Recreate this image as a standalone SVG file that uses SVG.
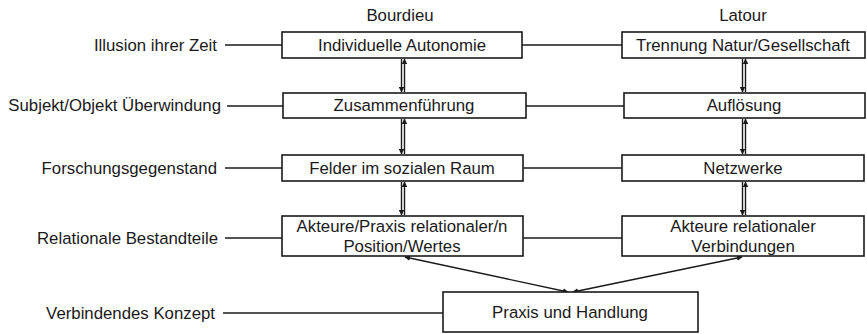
<svg xmlns="http://www.w3.org/2000/svg" width="867" height="334" viewBox="0 0 867 334">
<style>
text{font-family:"Liberation Sans",Arial,sans-serif;font-size:16.8px;fill:#1a1a1a}
.c{text-anchor:middle}
.r{text-anchor:end}
.box{fill:#fff;stroke:#1a1a1a;stroke-width:1.6}
.ln{stroke:#1a1a1a;stroke-width:1.4;fill:none}
</style>
<defs>
<marker id="ah" viewBox="0 0 10 10" refX="9" refY="5" markerWidth="4" markerHeight="4" orient="auto-start-reverse">
<path d="M0,0 L10,5 L0,10 z" fill="#1a1a1a"/>
</marker>
</defs>
<g id="headers">
<text class="c" x="400" y="21">Bourdieu</text>
<text class="c" x="743" y="21">Latour</text>
</g>
<g id="labels">
<text class="r" x="217" y="51">Illusion ihrer Zeit</text>
<text class="r" x="221" y="111">Subjekt/Objekt Überwindung</text>
<text class="r" x="217" y="174">Forschungsgegenstand</text>
<text class="r" x="218" y="244">Relationale Bestandteile</text>
<text class="r" x="215" y="319">Verbindendes Konzept</text>
</g>
<g id="connectors">
<line class="ln" x1="225" y1="45" x2="282" y2="45"/>
<line class="ln" x1="227" y1="106" x2="283" y2="106"/>
<line class="ln" x1="225" y1="168" x2="282" y2="168"/>
<line class="ln" x1="225" y1="238" x2="282" y2="238"/>
<line class="ln" x1="223" y1="313" x2="443" y2="313"/>
<line class="ln" x1="522" y1="45" x2="622" y2="45"/>
<line class="ln" x1="526" y1="106" x2="624" y2="106"/>
<line class="ln" x1="523" y1="168" x2="622" y2="168"/>
<line class="ln" x1="523" y1="238" x2="622" y2="238"/>
<line class="ln" x1="401.5" y1="59" x2="401.5" y2="92" marker-end="url(#ah)"/>
<line class="ln" x1="404.5" y1="92" x2="404.5" y2="59" marker-end="url(#ah)"/>
<line class="ln" x1="401.5" y1="119" x2="401.5" y2="154" marker-end="url(#ah)"/>
<line class="ln" x1="404.5" y1="154" x2="404.5" y2="119" marker-end="url(#ah)"/>
<line class="ln" x1="401.5" y1="182" x2="401.5" y2="215" marker-end="url(#ah)"/>
<line class="ln" x1="404.5" y1="215" x2="404.5" y2="182" marker-end="url(#ah)"/>
<line class="ln" x1="742.5" y1="59" x2="742.5" y2="92" marker-end="url(#ah)"/>
<line class="ln" x1="745.5" y1="92" x2="745.5" y2="59" marker-end="url(#ah)"/>
<line class="ln" x1="742.5" y1="119" x2="742.5" y2="154" marker-end="url(#ah)"/>
<line class="ln" x1="745.5" y1="154" x2="745.5" y2="119" marker-end="url(#ah)"/>
<line class="ln" x1="742.5" y1="182" x2="742.5" y2="215" marker-end="url(#ah)"/>
<line class="ln" x1="745.5" y1="215" x2="745.5" y2="182" marker-end="url(#ah)"/>
<line class="ln" x1="405" y1="257" x2="568" y2="292" marker-start="url(#ah)" marker-end="url(#ah)"/>
<line class="ln" x1="573" y1="292" x2="742" y2="257" marker-start="url(#ah)" marker-end="url(#ah)"/>
</g>
<g id="b1"><rect class="box" x="282" y="32" width="240" height="26"/><text class="c" x="402" y="51">Individuelle Autonomie</text></g>
<g id="b2"><rect class="box" x="283" y="93" width="243" height="25"/><text class="c" x="404" y="111">Zusammenführung</text></g>
<g id="b3"><rect class="box" x="282" y="155" width="241" height="26"/><text class="c" x="402" y="174">Felder im sozialen Raum</text></g>
<g id="b4"><rect class="box" x="282" y="216" width="241" height="40"/><text class="c" x="402" y="232">Akteure/Praxis relationaler/n</text><text class="c" x="402" y="252">Position/Wertes</text></g>
<g id="l1"><rect class="box" x="622" y="32" width="243" height="26"/><text class="c" x="743" y="51">Trennung Natur/Gesellschaft</text></g>
<g id="l2"><rect class="box" x="624" y="93" width="241" height="25"/><text class="c" x="744" y="111">Auflösung</text></g>
<g id="l3"><rect class="box" x="622" y="155" width="242" height="26"/><text class="c" x="743" y="174">Netzwerke</text></g>
<g id="l4"><rect class="box" x="622" y="216" width="242" height="40"/><text class="c" x="743" y="232">Akteure relationaler</text><text class="c" x="743" y="252">Verbindungen</text></g>
<g id="p"><rect class="box" x="443" y="292" width="255" height="40"/><text class="c" x="570" y="318">Praxis und Handlung</text></g>
</svg>
